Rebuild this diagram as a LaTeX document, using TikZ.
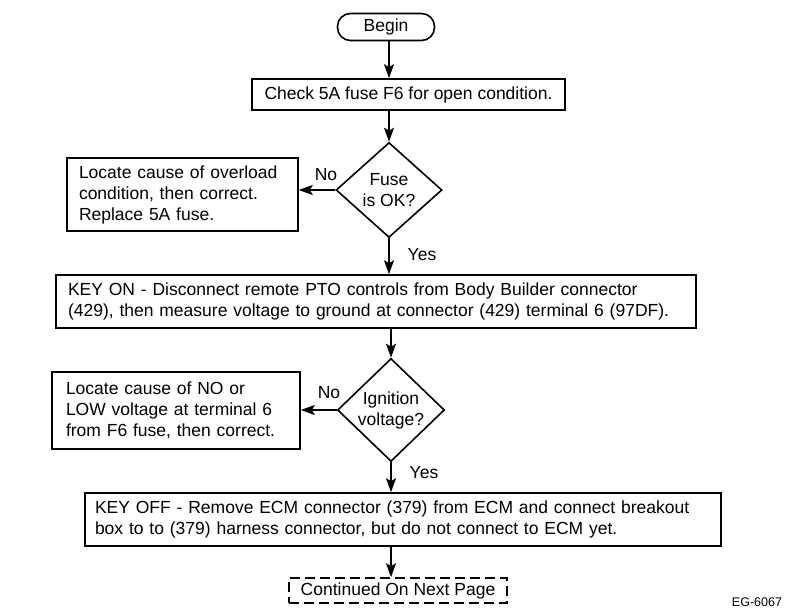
\documentclass[tikz,border=0pt]{standalone}
\usepackage{fontspec}
\setmainfont{Liberation Sans}
\usetikzlibrary{arrows.meta, shapes.geometric}

\begin{document}
\begin{tikzpicture}[x=1pt, y=-1pt, >={Stealth[length=14pt, width=10pt, inset=3pt]}, line width=1.6pt,
    every node/.style={font=\fontsize{17.5}{21}\selectfont},
    terminal/.style={draw, rectangle, rounded corners=13pt, minimum width=97pt, minimum height=27pt, inner sep=0pt},
    stepbox/.style={draw, rectangle, inner xsep=12pt, inner ysep=0pt, align=left},
    decision/.style={draw, diamond, inner sep=-8pt, align=center, minimum width=106pt, minimum height=96pt},
    endbox/.style={draw, dash pattern=on 10pt off 5pt, minimum width=218pt, minimum height=25pt, inner sep=0pt},
    lbl/.style={inner sep=0pt}]
    \useasboundingbox (0,0) rectangle (800,612);

    % Boxes
    \node[terminal] (begin) at (386,27) {Begin};
    \node[stepbox, align=center, minimum width=313pt, minimum height=31pt] (check) at (408.5,94.5) {Check 5A fuse F6 for open condition.};
    \node[decision, minimum height=95pt] (fuse) at (389,190) {Fuse\\is OK?};
    \node[stepbox, text width=207pt, minimum height=73pt] (overload) at (182.5,194.5)
        {Locate cause of overload\\condition, then correct.\\Replace 5A fuse.};
    \node[stepbox, text width=616pt, minimum height=53pt] (keyon) at (376,301.5)
        {KEY ON - Disconnect remote PTO controls from Body Builder connector\\(429), then measure voltage to ground at connector (429) terminal 6 (97DF).};
    \node[decision, minimum width=107pt, minimum height=103pt] (ign) at (391,410) {Ignition\\voltage?};
    \node[stepbox, inner xsep=14pt, text width=220pt, minimum height=77pt] (lowvolt) at (176,410.5)
        {Locate cause of NO or\\LOW voltage at terminal 6\\from F6 fuse, then correct.};
    \node[stepbox, inner xsep=10pt, text width=616pt, minimum height=53pt] (keyoff) at (403,519.5)
        {KEY OFF - Remove ECM connector (379) from ECM and connect breakout\\box to to (379) harness connector, but do not connect to ECM yet.};
    \node[endbox] (cont) at (398,590.5) {Continued On Next Page};

    % Labels
    \node[lbl] (no1) at (326,175) {No};
    \node[lbl] (yes1) at (422,255) {Yes};
    \node[lbl] (no2) at (329,393) {No};
    \node[lbl] (yes2) at (424,473) {Yes};
    \node[lbl, font=\fontsize{12.5}{14}\selectfont] (fig) at (757,602) {EG-6067};

    % Arrows
    \draw[->] (fuse |- begin.south) -- (fuse |- check.north);
    \draw[->] (fuse |- check.south) -- (fuse.north);
    \draw[->] (fuse.west) -- (fuse.west -| overload.east);
    \draw[->] (fuse.south) -- (fuse |- keyon.north);
    \draw[->] (ign |- keyon.south) -- (ign.north);
    \draw[->] (ign.west) -- (ign.west -| lowvolt.east);
    \draw[->] (ign.south) -- (ign |- keyoff.north);
    \draw[->] (ign |- keyoff.south) -- (ign |- cont.north);
\end{tikzpicture}
\end{document}
